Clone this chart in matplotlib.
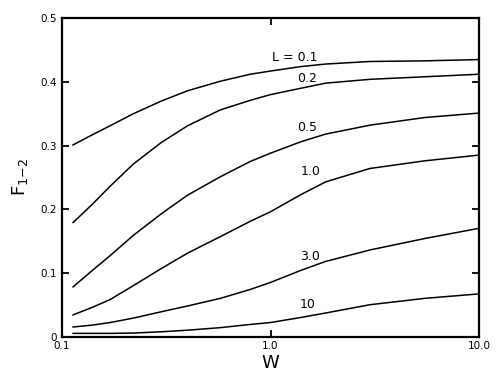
import matplotlib
matplotlib.use("Agg")
import matplotlib.pyplot as plt
from matplotlib.ticker import FixedLocator, NullLocator

W = [0.113, 0.14, 0.17, 0.22, 0.3, 0.4, 0.575, 0.8, 1.0, 1.4, 1.84, 3.0, 5.5, 10.0]
L_labels = ["L = 0.1", "0.2", "0.5", "1.0", "3.0", "10"]
F_L01 = [0.301, 0.317, 0.331, 0.350, 0.370, 0.386, 0.401, 0.412, 0.417, 0.424, 0.428, 0.432, 0.433, 0.435]
F_L02 = [0.179, 0.208, 0.236, 0.271, 0.305, 0.331, 0.356, 0.371, 0.380, 0.390, 0.398, 0.404, 0.408, 0.412]
F_L05 = [0.078, 0.104, 0.127, 0.159, 0.193, 0.222, 0.251, 0.275, 0.288, 0.306, 0.318, 0.332, 0.344, 0.351]
F_L10 = [0.034, 0.046, 0.058, 0.080, 0.107, 0.131, 0.157, 0.181, 0.196, 0.223, 0.243, 0.264, 0.276, 0.285]
F_L30 = [0.015, 0.018, 0.022, 0.029, 0.039, 0.048, 0.060, 0.074, 0.085, 0.104, 0.118, 0.136, 0.154, 0.170]
F_L100 = [0.005, 0.005, 0.005, 0.0055, 0.0075, 0.010, 0.014, 0.019, 0.022, 0.030, 0.037, 0.050, 0.060, 0.067]
series = [F_L01, F_L02, F_L05, F_L10, F_L30, F_L100]
label_W = [1.30, 1.50, 1.50, 1.56, 1.54, 1.51]
label_F = [0.438, 0.406, 0.329, 0.259, 0.126, 0.050]

x_ticks = [0.1, 1.0, 10.0]
x_ticklabels = ["0.1", "1.0", "10.0"]
y_ticks = [0, 0.1, 0.2, 0.3, 0.4, 0.5]
y_ticklabels = ["0", "0.1", "0.2", "0.3", "0.4", "0.5"]

fig = plt.figure(figsize=(5.0, 3.79), dpi=100)
ax = fig.add_axes([0.124, 0.112, 0.834, 0.840])

for F in series:
    ax.plot(W, F, color="black", lw=1.1)

for lab, lw_, lf in zip(L_labels, label_W, label_F):
    ax.text(lw_, lf, lab, ha="center", va="center", fontsize=9, color="black")

ax.set_xscale("log")
ax.set_xlim(0.1, 10)
ax.set_ylim(0, 0.5)
ax.xaxis.set_major_locator(FixedLocator(x_ticks))
ax.xaxis.set_minor_locator(NullLocator())
ax.set_xticklabels(x_ticklabels)
ax.set_yticks(y_ticks)
ax.set_yticklabels(y_ticklabels)
ax.tick_params(direction="in", length=5, width=1.3, labelsize=7.5,
               top=True, right=True, color="black")
for s in ax.spines.values():
    s.set_linewidth(1.6)

ax.set_xlabel("W", fontsize=13, labelpad=2)
ax.set_ylabel(r"F$_{1\mathrm{-}2}$", fontsize=13, labelpad=8)

fig.savefig("out.png", dpi=100)
